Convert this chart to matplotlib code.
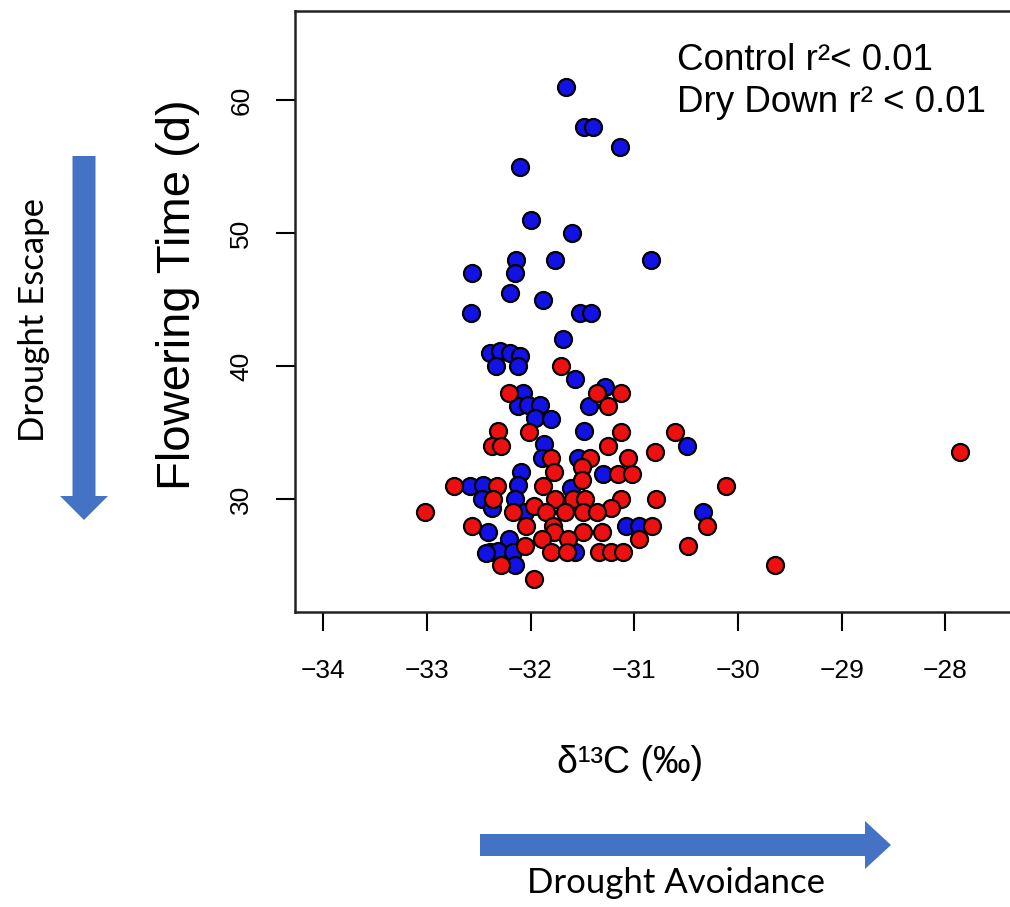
import matplotlib
matplotlib.use("Agg")
import matplotlib.pyplot as plt

# Control (blue) : delta13C, flowering time (d)
control_d13c = [-31.66, -31.48, -31.40, -31.14, -32.10, -32.00, -31.60, -32.14, -31.76, -30.84,
                -32.56, -32.15, -32.20, -31.88, -32.57, -31.52, -31.42, -31.69, -32.39, -32.29,
                -32.20, -32.10, -32.33, -32.12, -31.57, -32.07, -31.28, -32.12, -32.02, -31.91,
                -31.96, -31.80, -31.44, -31.48, -31.87, -30.49, -31.89, -31.54, -32.09, -31.30,
                -32.58, -32.46, -32.12, -31.61, -32.47, -32.15, -32.37, -32.05, -30.34, -31.08,
                -30.95, -32.41, -32.21, -32.39, -32.31, -32.17, -31.57, -32.43, -32.15]
control_ft = [61.0, 58.0, 58.0, 56.5, 55.0, 51.0, 50.0, 48.0, 48.0, 48.0,
              47.0, 47.0, 45.5, 45.0, 44.0, 44.0, 44.0, 42.0, 41.0, 41.1,
              41.0, 40.75, 40.0, 40.0, 39.0, 38.0, 38.4, 37.0, 37.1, 37.1,
              36.1, 36.0, 37.0, 35.1, 34.1, 34.0, 33.1, 33.1, 32.05, 31.9,
              31.0, 31.05, 31.05, 30.8, 30.0, 30.0, 29.3, 29.0, 29.0, 28.0,
              28.0, 27.5, 27.0, 26.0, 26.1, 26.0, 26.0, 25.9, 25.0]

# Dry down (red)
dry_d13c = [-31.71, -32.21, -31.36, -31.13, -31.25, -32.31, -32.01, -31.13, -30.61, -32.37,
            -32.28, -31.25, -30.80, -31.80, -31.43, -31.06, -27.86, -31.77, -31.50, -31.50,
            -31.16, -31.02, -30.12, -32.74, -32.32, -31.88, -31.13, -30.79, -32.36, -31.97,
            -31.76, -31.59, -31.47, -31.22, -33.02, -32.17, -31.85, -31.67, -31.49, -31.36,
            -30.30, -30.83, -32.56, -32.04, -31.78, -31.77, -31.49, -31.31, -30.95, -31.89,
            -31.64, -32.05, -30.48, -31.80, -31.65, -31.34, -31.22, -31.11, -32.28, -29.64,
            -31.97]
dry_ft = [40.0, 38.0, 38.0, 38.0, 37.0, 35.1, 35.0, 35.0, 35.0, 34.0,
          34.0, 34.0, 33.5, 33.1, 33.1, 33.1, 33.5, 32.0, 32.4, 31.4,
          31.9, 31.9, 31.0, 31.0, 31.0, 31.0, 30.0, 30.0, 30.0, 29.5,
          30.0, 30.0, 30.0, 29.3, 29.0, 29.0, 29.0, 29.0, 29.0, 29.0,
          28.0, 28.0, 28.0, 28.0, 28.0, 27.5, 27.5, 27.5, 27.0, 27.0,
          27.0, 26.5, 26.5, 26.0, 26.0, 26.0, 26.0, 26.0, 25.0, 25.0,
          24.0]

x_ticks = [-34, -33, -32, -31, -30, -29, -28]
y_ticks = [30, 40, 50, 60]

narrow = ['Liberation Sans Narrow', 'Liberation Sans', 'DejaVu Sans']
plain = ['Liberation Sans', 'DejaVu Sans']
office = ['Lato', 'DejaVu Sans']
arrow_blue = '#4472C4'

W, H = 1010, 907
fig = plt.figure(figsize=(W / 100, H / 100), dpi=100)


def px(x, y):
    # pixel position (from top-left) -> figure fraction
    return x / W, (H - y) / H


# main axes (right edge runs past the figure, as in the cropped original)
left, right, top, bottom = 295, 1015, 11, 612
ax = fig.add_axes([left / W, (H - bottom) / H, (right - left) / W, (bottom - top) / H])
ax.scatter(control_d13c, control_ft, s=150, c='#1212E6', edgecolors='black', linewidths=1.6, zorder=3)
ax.scatter(dry_d13c, dry_ft, s=150, c='#EE1010', edgecolors='black', linewidths=1.6, zorder=4)

ax.set_xlim(-34.27, -27.33)
ax.set_ylim(21.5, 66.7)
ax.set_xticks(x_ticks)
ax.set_xticklabels(['\u2212%d' % abs(v) for v in x_ticks], fontsize=19, family=narrow)
ax.set_yticks(y_ticks)
ax.set_yticklabels([str(v) for v in y_ticks], fontsize=19, family=narrow, rotation=90, va='center')
ax.tick_params(axis='x', length=14, width=1.5, pad=20)
ax.tick_params(axis='y', length=14, width=1.5, pad=16)
for s in ax.spines.values():
    s.set_linewidth(1.8)
    s.set_color('#222222')

# axis titles placed at the reference pixel positions
fig.text(*px(178, 295), 'Flowering Time (d)', rotation=90, ha='center', va='center',
         fontsize=34, family=plain)
fig.text(*px(630, 763), '\u03b4\u00b9\u00b3C (\u2030)', ha='center', va='center',
         fontsize=27, family=plain)

fig.text(*px(677, 60), 'Control r\u00b2< 0.01', fontsize=26.5, family=narrow, va='center')
fig.text(*px(677, 103), 'Dry Down r\u00b2 < 0.01', fontsize=26.5, family=narrow, va='center')

# overlay for arrows and their captions (pixel coordinates)
ov = fig.add_axes([0, 0, 1, 1])
ov.set_xlim(0, W)
ov.set_ylim(H, 0)
ov.axis('off')
ov.patch.set_alpha(0)
ov.arrow(84, 156, 0, 340, width=23, head_width=48, head_length=24,
         length_includes_head=False, color=arrow_blue, linewidth=0)
ov.arrow(480, 845, 385, 0, width=22, head_width=48, head_length=26,
         length_includes_head=False, color=arrow_blue, linewidth=0)
ov.text(34, 320, 'Drought Escape', rotation=90, ha='center', va='center', fontsize=25, family=office)
ov.text(676, 883, 'Drought Avoidance', ha='center', va='center', fontsize=25, family=office)

fig.savefig('out.png', dpi=100)
